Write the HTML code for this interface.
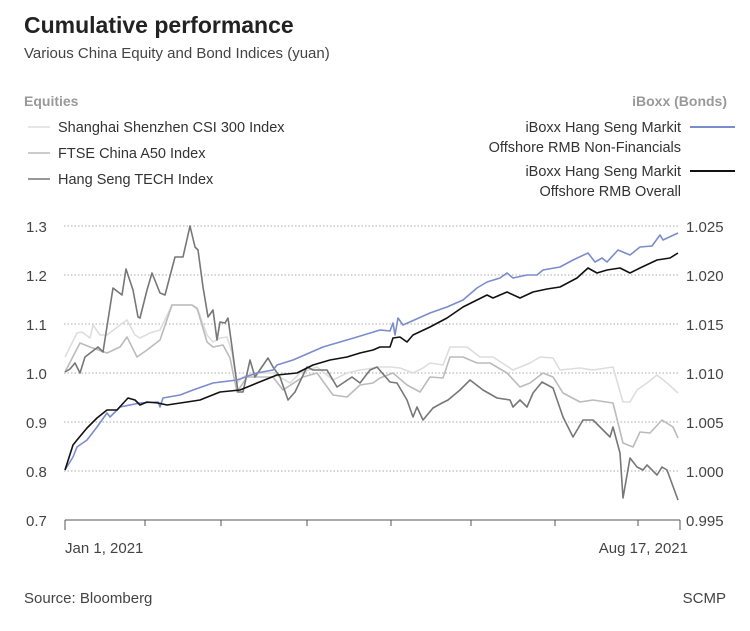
<!DOCTYPE html>
<html><head><meta charset="utf-8"><style>
body{margin:0;background:#fff;font-family:"Liberation Sans",sans-serif;}
</style></head><body>
<svg width="750" height="626" viewBox="0 0 750 626" xmlns="http://www.w3.org/2000/svg" font-family="Liberation Sans, sans-serif">
<rect width="750" height="626" fill="#fff"/>
<text x="24" y="33" font-size="23" font-weight="bold" fill="#222">Cumulative performance</text>
<text x="24" y="58" font-size="15" fill="#444">Various China Equity and Bond Indices (yuan)</text>
<text x="24" y="106" font-size="14" font-weight="bold" fill="#999">Equities</text>
<text x="727" y="106" font-size="14" font-weight="bold" fill="#999" text-anchor="end">iBoxx (Bonds)</text>
<g font-size="14.5" fill="#333">
<line x1="28" y1="127" x2="50" y2="127" stroke="#ddd" stroke-width="1.5"/><text x="58" y="132">Shanghai Shenzhen CSI 300 Index</text>
<line x1="28" y1="153" x2="50" y2="153" stroke="#bbb" stroke-width="1.5"/><text x="58" y="158">FTSE China A50 Index</text>
<line x1="28" y1="179" x2="50" y2="179" stroke="#777" stroke-width="1.5"/><text x="58" y="184">Hang Seng TECH Index</text>
<text x="681" y="132" text-anchor="end">iBoxx Hang Seng Markit</text>
<text x="681" y="152" text-anchor="end">Offshore RMB Non-Financials</text>
<line x1="690" y1="127" x2="735" y2="127" stroke="#7b8ccc" stroke-width="2"/>
<text x="681" y="176" text-anchor="end">iBoxx Hang Seng Markit</text>
<text x="681" y="196" text-anchor="end">Offshore RMB Overall</text>
<line x1="690" y1="171" x2="735" y2="171" stroke="#111" stroke-width="2"/>
</g>
<g stroke="#aaa" stroke-dasharray="1.5,2" stroke-width="1">
<line x1="64" y1="226" x2="678" y2="226"/><line x1="64" y1="275" x2="678" y2="275"/><line x1="64" y1="324" x2="678" y2="324"/><line x1="64" y1="373" x2="678" y2="373"/><line x1="64" y1="422" x2="678" y2="422"/><line x1="64" y1="471" x2="678" y2="471"/>
</g>
<g font-size="15" fill="#444">
<text x="26" y="232">1.3</text><text x="26" y="281">1.2</text><text x="26" y="330">1.1</text><text x="26" y="379">1.0</text><text x="26" y="428">0.9</text><text x="26" y="477">0.8</text><text x="26" y="526">0.7</text>
<text x="686" y="232">1.025</text><text x="686" y="281">1.020</text><text x="686" y="330">1.015</text><text x="686" y="379">1.010</text><text x="686" y="428">1.005</text><text x="686" y="477">1.000</text><text x="686" y="526">0.995</text>
<text x="65" y="553">Jan 1, 2021</text><text x="688" y="553" text-anchor="end">Aug 17, 2021</text>
<text x="24" y="603">Source: Bloomberg</text><text x="726" y="603" text-anchor="end">SCMP</text>
</g>
<g stroke="#555" stroke-width="1">
<line x1="65" y1="520" x2="680" y2="520"/>
<line x1="65" y1="520" x2="65" y2="530"/><line x1="145" y1="520" x2="145" y2="526"/><line x1="221" y1="520" x2="221" y2="526"/><line x1="307" y1="520" x2="307" y2="526"/><line x1="391" y1="520" x2="391" y2="526"/><line x1="471" y1="520" x2="471" y2="526"/><line x1="555" y1="520" x2="555" y2="526"/><line x1="638" y1="520" x2="638" y2="526"/><line x1="680" y1="520" x2="680" y2="530"/>
</g>
<g fill="none" stroke-width="1.6" stroke-linejoin="round">
<polyline stroke="#ddd" points="65,357 77,333 82,332 90,338 93,325 100,335 107,335 120,325 127,320 135,335 140,338 150,333 160,330 172,305 192,305 198,310 207,335 213,342 220,338 227,337 232,353 237,383 243,377 253,373 273,373 290,383 300,373 317,367 333,380 347,373 360,370 380,367 390,367 400,368 413,373 423,368 430,363 443,365 450,347 467,347 480,357 493,357 513,370 530,363 540,357 553,358 560,370 580,368 593,370 613,367 623,402 630,402 637,390 647,383 657,375 667,383 678,393"/>
<polyline stroke="#bbb" points="65,372 80,343 90,347 107,353 120,347 127,337 137,357 147,350 160,340 172,305 192,305 197,308 207,342 213,347 223,345 230,358 237,392 247,377 273,377 283,390 303,377 317,373 333,395 347,397 360,385 373,383 380,378 393,373 407,385 420,392 430,377 443,378 450,357 463,357 477,363 490,363 507,373 520,387 530,383 543,373 553,377 563,393 580,402 593,400 613,403 623,443 633,447 640,432 650,433 662,420 673,427 678,438"/>
<polyline stroke="#777" points="65,372 70,369 75,363 80,373 85,357 98,347 103,352 113,288 122,295 126,269 133,290 138,317 140,318 147,290 152,273 160,293 165,295 175,257 183,257 190,226 195,247 198,250 203,287 208,317 213,310 217,340 220,322 225,323 228,318 232,347 238,392 243,392 250,360 255,377 268,358 273,367 280,377 288,400 295,392 307,367 313,370 327,370 337,387 343,383 352,377 360,383 370,370 377,367 390,382 397,383 407,400 413,417 417,407 423,420 433,408 442,403 448,400 460,390 470,380 483,390 497,398 510,400 513,407 520,400 527,407 533,393 542,382 553,388 563,417 573,437 583,420 593,420 603,430 610,437 613,427 620,453 623,498 630,458 637,467 643,470 647,465 657,475 662,467 667,470 678,500"/>
<polyline stroke="#7b8ccc" points="65,470 73,457 77,447 87,440 97,427 107,413 110,417 120,407 140,403 158,402 160,407 163,398 180,395 193,390 213,383 237,380 257,373 273,370 277,365 293,360 323,347 357,337 380,330 390,331 393,323 395,335 398,318 403,325 430,313 447,307 463,300 477,288 487,282 500,278 507,273 513,278 527,275 537,275 543,270 560,267 573,260 588,253 595,262 602,258 607,262 618,250 630,255 640,247 652,246 660,235 663,240 678,233"/>
<polyline stroke="#111" points="65,470 73,445 77,440 87,428 97,418 107,410 117,410 128,398 135,400 140,405 147,402 158,403 167,405 187,402 200,400 220,392 240,390 257,383 277,375 297,373 313,365 330,360 347,357 360,353 373,350 380,347 390,347 393,338 400,337 407,342 413,335 430,327 447,318 463,307 477,300 487,295 493,298 507,292 520,298 533,292 547,289 560,287 577,278 588,268 597,273 607,270 620,268 630,273 640,268 657,260 670,258 678,253"/>
</g>
</svg>
</body></html>
